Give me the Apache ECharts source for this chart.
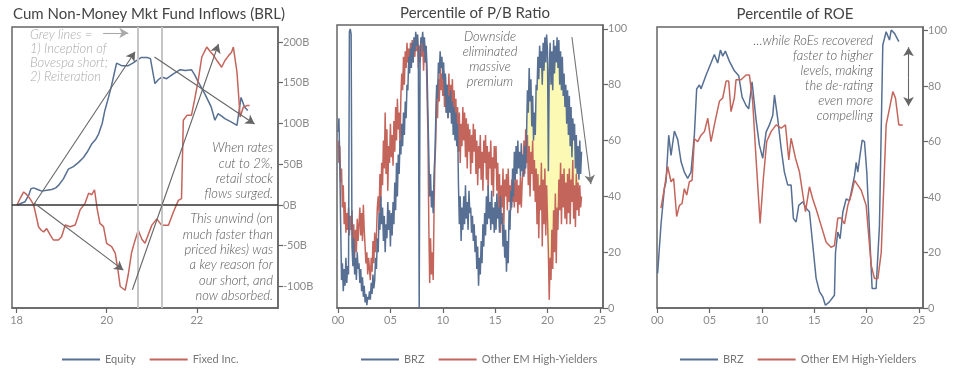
<!DOCTYPE html>
<html><head><meta charset="utf-8">
<script src="https://cdn.jsdelivr.net/npm/echarts/dist/echarts.min.js"></script>
<style>html,body{margin:0;padding:0;background:#fff}#c{width:966px;height:373px}</style>
</head><body><div id="c"></div>
<script>
// ---------- Panel 1: Cum Non-Money Mkt Fund Inflows (BRL), [year, BRL bn] ----------
const p1Equity = [[2018.01,0],[2018.08,1.5],[2018.19,4],[2018.27,12],[2018.32,20],[2018.38,21],[2018.47,19],[2018.56,17],[2018.67,18],[2018.78,19],[2018.87,21],[2018.93,24],[2019.04,32],[2019.15,44],[2019.26,47],[2019.37,52],[2019.48,58],[2019.58,66],[2019.67,75],[2019.75,80],[2019.82,87],[2019.90,100],[2019.96,116],[2020.04,132],[2020.11,147],[2020.17,162],[2020.22,174],[2020.33,171],[2020.48,171],[2020.58,174],[2020.66,177],[2020.77,181],[2020.90,181],[2020.97,179.6],[2021.07,149],[2021.15,154],[2021.22,157],[2021.33,155],[2021.48,161],[2021.63,166],[2021.75,165],[2021.88,166],[2021.95,160],[2022.03,151],[2022.18,136],[2022.32,120],[2022.40,104],[2022.47,112],[2022.55,109],[2022.62,106],[2022.76,102],[2022.89,97.8],[2022.98,132],[2023.06,120],[2023.13,116]];
const p1FixedInc = [[2018.01,0],[2018.08,8],[2018.16,16],[2018.22,13],[2018.27,10],[2018.33,5],[2018.38,0],[2018.43,-12],[2018.49,-27],[2018.55,-31],[2018.60,-33],[2018.67,-29],[2018.75,-37],[2018.82,-43],[2018.93,-43],[2019.00,-39],[2019.08,-24.5],[2019.19,-26.6],[2019.30,-24.5],[2019.36,-15],[2019.41,-6],[2019.52,2],[2019.60,14.5],[2019.67,12.6],[2019.73,18.7],[2019.79,-5],[2019.85,-22.5],[2019.93,-26.6],[2020.00,-47],[2020.11,-51],[2020.19,-59],[2020.25,-80],[2020.30,-100],[2020.41,-104.6],[2020.48,-85],[2020.55,-59],[2020.62,-45],[2020.70,-31],[2020.78,-42],[2020.85,-47],[2020.89,-47.5],[2021.00,-25],[2021.11,-17],[2021.22,-25],[2021.37,-25],[2021.48,-8.6],[2021.59,5.7],[2021.66,7.8],[2021.70,104],[2021.78,110],[2021.88,110],[2021.96,132],[2022.03,153],[2022.11,181.6],[2022.22,193.8],[2022.30,188],[2022.37,183.6],[2022.46,176],[2022.55,169],[2022.62,177],[2022.70,183],[2022.77,187.4],[2022.81,193.8],[2022.89,163],[2022.96,108],[2023.03,120],[2023.11,122],[2023.17,122]];
const p1GreyLines = [2020.68, 2021.23];
const p1XTicks = [2018, 2020, 2022];
const p1YTicks = [-100, -50, 0, 50, 100, 150, 200];

// ---------- Panel 2: Percentile of P/B ratio, monthly from Jan 2000 ----------
const p2StartYear = 2000;
const p2BRZ = [
63,68,52,30,10,16,6,14,8,18,9,15,
12,99,100,98,22,15,25,12,18,10,20,14,
16,9,14,6,11,4,8,2,5,1,4,3,
6,3,9,5,12,7,10,18,14,25,20,34,
28,40,30,36,24,33,20,30,25,38,28,35,
22,34,26,38,30,45,35,52,40,55,48,60,
55,66,58,70,62,74,68,80,78,90,84,93,
86,95,88,97,92,99,94,98,92,0,90,97,
95,99,92,97,88,94,85,70,55,40,48,36,
42,34,48,55,68,80,75,88,84,92,86,90,
82,88,76,84,70,80,68,76,70,78,66,74,
62,72,60,70,58,66,44,30,40,24,36,28,
40,30,44,32,38,28,42,34,36,27,33,24,
30,20,26,14,22,8,18,12,24,16,30,22,
34,26,40,30,44,32,38,28,42,30,36,27,
38,28,41,32,36,27,40,30,34,22,30,18,
28,13,24,16,35,28,42,36,50,40,56,46,
58,48,60,50,56,47,59,49,55,47,58,50,
62,78,70,86,74,82,65,76,60,70,62,80,
78,90,82,94,86,92,80,95,85,97,88,98,
92,49,85,95,80,92,78,96,84,94,88,97,
86,96,80,92,78,90,76,84,72,80,66,78,
62,76,58,72,54,68,60,66,50,62,48,58,
46,60,48,56];
const p2OtherEM = [
60,52,58,45,50,36,44,30,38,27,34,28,
36,26,33,28,35,22,30,18,28,20,32,24,
30,36,26,34,24,37,28,22,16,20,12,18,
14,10,18,13,24,16,27,20,26,36,40,34,
48,38,52,44,60,50,70,48,64,42,58,52,
66,54,62,51,67,56,72,60,75,64,70,58,
76,84,78,90,80,92,86,95,88,93,87,95,
89,96,88,94,90,97,92,98,86,94,88,96,
90,97,85,95,88,92,76,62,30,9,25,12,
20,10,35,52,60,77,68,82,74,86,78,84,
76,85,72,83,70,80,68,84,72,80,70,82,
68,78,66,75,60,72,56,70,52,66,58,72,
60,70,54,68,50,66,56,64,48,62,52,66,
56,64,48,60,44,58,50,62,46,56,42,60,
52,62,46,58,42,56,50,60,44,54,40,58,
50,58,42,52,34,48,27,44,36,50,30,46,
40,48,35,50,38,44,35,46,38,45,36,47,
38,46,34,44,37,47,36,45,50,60,48,64,
52,62,44,58,40,56,48,60,42,53,38,50,
30,48,25,44,35,52,22,46,30,50,26,44,
32,20,3,18,10,28,14,35,20,41,16,36,
28,46,35,52,30,48,36,50,32,45,30,48,
34,50,30,46,38,53,32,44,29,48,35,45,
33,44,36,40];
const p2HighlightRange = [2018.0, 2023.0];
const p2XTicks = [2000, 2005, 2010, 2015, 2020, 2025];
const p2YTicks = [0, 20, 40, 60, 80, 100];

// ---------- Panel 3: Percentile of ROE, [year, pct] ----------
const p3BRZ = [[2000.03,12.5],[2000.35,30],[2000.67,43],[2000.83,45.5],[2001.09,62.3],[2001.31,55],[2001.63,63.8],[2001.95,60.7],[2002.27,52.7],[2002.58,49],[2002.90,46.7],[2003.22,49],[2003.54,62.4],[2003.76,79],[2004.02,80.4],[2004.18,79],[2004.66,84],[2005.13,88.3],[2005.45,91.4],[2005.77,88.3],[2006.03,93],[2006.25,90.8],[2006.50,92.6],[2006.88,89],[2007.36,85.5],[2007.78,83.7],[2008.10,76],[2008.48,73],[2008.73,71.8],[2009.05,81.5],[2009.43,68],[2009.75,58.7],[2010.07,54],[2010.39,63.4],[2010.71,66],[2011.03,69.5],[2011.19,76.8],[2011.51,68],[2011.83,57.5],[2012.14,49],[2012.46,44.3],[2012.78,44.3],[2013.00,32.3],[2013.26,31],[2013.51,37],[2013.90,38.3],[2014.21,36],[2014.53,34.7],[2014.85,22.7],[2015.17,10.7],[2015.49,5.9],[2015.81,4],[2016.06,1],[2016.44,2.2],[2016.92,4.6],[2017.02,20],[2017.24,27.4],[2017.46,25],[2017.72,34.5],[2018.04,39.3],[2018.36,38.7],[2018.52,41.7],[2018.84,47.7],[2019.00,52.5],[2019.15,49],[2019.31,53.6],[2019.57,60.5],[2019.79,60],[2020.01,49],[2020.52,7],[2020.90,7],[2021.22,29.7],[2021.54,94.8],[2021.86,99.6],[2022.18,96.6],[2022.34,100.2],[2022.66,99],[2023.07,96]];
const p3OtherEM = [[2000.35,36],[2000.67,43],[2000.99,51],[2001.31,45.5],[2001.56,46.7],[2001.85,33],[2002.11,37],[2002.36,37.6],[2002.58,43],[2002.81,40.7],[2003.06,45.5],[2003.32,46],[2003.54,61],[2003.86,60],[2004.18,62.3],[2004.50,63.6],[2004.82,68.4],[2005.13,60],[2005.45,66],[2005.93,74.5],[2006.25,75.7],[2006.57,81.8],[2006.82,81.8],[2007.04,70.8],[2007.36,75.7],[2007.52,82.3],[2008.00,82.3],[2008.48,84],[2008.80,84],[2009.11,74.5],[2009.43,54],[2009.82,30.5],[2010.13,46.7],[2010.45,60],[2010.87,63.6],[2011.35,66],[2011.83,64.8],[2012.24,66],[2012.56,53.4],[2012.78,61.2],[2013.20,54],[2013.58,49],[2014.15,34.7],[2014.53,43.7],[2014.85,39.3],[2015.17,35.7],[2015.65,29.7],[2016.13,23.7],[2016.60,21.9],[2016.92,22.5],[2017.24,32.4],[2017.56,32.4],[2017.88,30.3],[2018.20,37],[2018.52,40.7],[2018.84,46],[2019.15,44.3],[2019.47,42.5],[2019.95,37],[2020.43,15.4],[2020.75,10.6],[2021.07,10.6],[2021.39,20],[2021.86,66],[2022.18,72],[2022.50,78],[2022.75,75.7],[2023.07,66],[2023.45,66]];
const p3XTicks = [2000, 2005, 2010, 2015, 2020, 2025];
const p3YTicks = [0, 20, 40, 60, 80, 100];

// ---------- build ----------
const BLUE = '#566f93', RED = '#c4655c', AX = '#666', LBL = '#8a8a8a', FONT = 'Lato';
const monthly = (arr) => arr.map((v, i) => [p2StartYear + i / 12, v]);
const p2B = monthly(p2BRZ), p2E = monthly(p2OtherEM);
const inRange = (d) => d[0] >= p2HighlightRange[0] && d[0] <= p2HighlightRange[1];
const inRangeWide = (d) => d[0] >= p2HighlightRange[0] - 0.1 && d[0] <= p2HighlightRange[1] + 0.1;

function xAx(gi, min, max, ticks) {
  return {type:'value', gridIndex:gi, min, max, position:'bottom',
    splitLine:{show:false},
    axisLine:{show:true, onZero:false, lineStyle:{color:AX, width:1.5}},
    axisTick:{show:true, length:5, customValues:ticks, lineStyle:{color:AX, width:1.2}},
    axisLabel:{customValues:ticks, margin:7, color:LBL, fontSize:11, fontFamily:FONT,
      formatter:(v)=>String(Math.round(v) % 100).padStart(2,'0')}};
}
function yAx(gi, min, max, ticks, suffix) {
  return {type:'value', gridIndex:gi, min, max, position:'right',
    splitLine:{show:false},
    axisLine:{show:true, onZero:false, lineStyle:{color:AX, width:1.5}},
    axisTick:{show:true, length:5, customValues:ticks, lineStyle:{color:AX, width:1.2}},
    axisLabel:{customValues:ticks, margin:5, color:LBL, fontSize:11, fontFamily:FONT,
      formatter:(v)=>Math.round(v) + suffix}};
}
const arrowML = (pairs, color) => ({silent:true, animation:false, symbol:['none','arrow'], symbolSize:[8,9],
  label:{show:false}, emphasis:{disabled:true},
  lineStyle:{color:color, width:1.1, type:'solid'},
  data: pairs.map(p => [{coord:p[0]}, {coord:p[1]}])});
const lineS = (name, xi, data, color, extra) => Object.assign({type:'line', name, xAxisIndex:xi, yAxisIndex:xi,
  data, showSymbol:false, symbol:'none', animation:false, z:3,
  lineStyle:{color, width:1.5}, itemStyle:{color}}, extra || {});

const gridStyle = {show:true, borderColor:AX, borderWidth:1.5, backgroundColor:'transparent'};
const txt = (text, x, y, align, fill, lh) => ({type:'text', x, y, silent:true,
  style:{text, textAlign:align, textVerticalAlign:'top', fill, lineHeight:lh,
    font:'italic 300 13px Lato', fontFamily:FONT, fontStyle:'italic', fontWeight:300, fontSize:13}});
const legendCfg = (left, names) => ({left, top:349, data:names, icon:'rect', itemWidth:38, itemHeight:2, itemGap:14,
  selectedMode:false, textStyle:{color:'#777', fontSize:11, fontFamily:FONT}});

const option = {
  animation:false,
  title:[
    {text:'Cum Non-Money Mkt Fund Inflows (BRL)', left:144, top:2, textAlign:'center', textStyle:{fontSize:15, fontWeight:'normal', color:'#444', fontFamily:FONT}},
    {text:'Percentile of P/B Ratio', left:470, top:1, textAlign:'center', textStyle:{fontSize:15, fontWeight:'normal', color:'#444', fontFamily:FONT}},
    {text:'Percentile of ROE', left:790, top:2, textAlign:'center', textStyle:{fontSize:15, fontWeight:'normal', color:'#444', fontFamily:FONT}}
  ],
  grid:[
    Object.assign({left:12, top:27, width:266, height:281}, gridStyle),
    Object.assign({left:337, top:25, width:266, height:283}, gridStyle),
    Object.assign({left:657, top:27, width:266, height:281}, gridStyle)
  ],
  xAxis:[ xAx(0, 2017.9, 2023.8, p1XTicks), xAx(1, 1999.9, 2025.3, p2XTicks), xAx(2, 1999.97, 2025.38, p3XTicks) ],
  yAxis:[ yAx(0, -126.4, 218.4, p1YTicks, 'B'), yAx(1, 0, 101.4, p2YTicks, ''), yAx(2, 0, 101.3, p3YTicks, '') ],
  legend:[ legendCfg(57, ['Equity','Fixed Inc.']), legendCfg(356, ['BRZ','Other EM High-Yielders']), legendCfg(675, ['BRZ','Other EM High-Yielders']) ],
  series:[
    // panel 1
    lineS('Equity', 0, p1Equity, BLUE, {markLine:{silent:true, animation:false, symbol:['none','none'], label:{show:false}, emphasis:{disabled:true},
      data:[{yAxis:0, lineStyle:{color:'#333', width:1.5, type:'solid'}}].concat(
        p1GreyLines.map(v => ({xAxis:v, lineStyle:{color:'#c6c6c6', width:2, type:'solid'}})))}}),
    lineS('Fixed Inc.', 0, p1FixedInc, RED, {markLine:arrowML([
      [[2018.39,1.2],[2020.63,188]],
      [[2018.39,2.5],[2020.37,-80]],
      [[2020.57,-104],[2022.48,197.5]],
      [[2021.06,181.6],[2023.28,99.4]]], '#666')}),
    {type:'line', name:'greyArrow', xAxisIndex:0, yAxisIndex:0, data:[], markLine:arrowML([[[2019.92,211],[2020.48,211]]], '#aaa')},
    // panel 2 highlight (fill under BRZ, then white under Other EM)
    {type:'line', name:'hl1', xAxisIndex:1, yAxisIndex:1, data:p2B.filter(inRange), showSymbol:false, symbol:'none', animation:false,
      lineStyle:{width:0}, areaStyle:{color:'#fbf9b4', opacity:1}, z:-2, silent:true},
    {type:'line', name:'hl2', xAxisIndex:1, yAxisIndex:1, data:p2E.filter(inRangeWide), showSymbol:false, symbol:'none', animation:false,
      lineStyle:{width:0}, areaStyle:{color:'#ffffff', opacity:1}, z:-1, silent:true},
    lineS('Other EM High-Yielders', 1, p2E, RED, {markLine:arrowML([[[2022.33,97.1],[2024.14,44.4]]], '#777')}),
    lineS('BRZ', 1, p2B, BLUE, {z:4}),
    // panel 3
    lineS('BRZ', 2, p3BRZ, BLUE),
    lineS('Other EM High-Yielders', 2, p3OtherEM, RED, {markLine:arrowML([[[2024.0,83],[2024.0,94]],[[2024.0,83],[2024.0,72.8]]], '#666')})
  ],
  graphic:[
    txt('Grey lines =\n1) Inception of\nBovespa short;\n2) Reiteration', 30, 28, 'left', '#aaa', 14),
    txt('When rates\ncut to 2%,\nretail stock\nflows surged.', 273, 140.5, 'right', '#555', 15.3),
    txt('This unwind (on\nmuch faster than\npriced hikes) was\na key reason for\nour short, and\nnow absorbed.', 273, 211.5, 'right', '#555', 15.3),
    txt('Downside\neliminated\nmassive\npremium', 490, 29.5, 'center', '#555', 15),
    txt('\u2026while RoEs recovered\nfaster to higher\nlevels, making\nthe de-rating\neven more\ncompelling', 873, 33.5, 'right', '#555', 15)
  ]
};
const chart = echarts.init(document.getElementById('c'), null, {renderer:'canvas'});
chart.setOption(option);
</script></body></html>
